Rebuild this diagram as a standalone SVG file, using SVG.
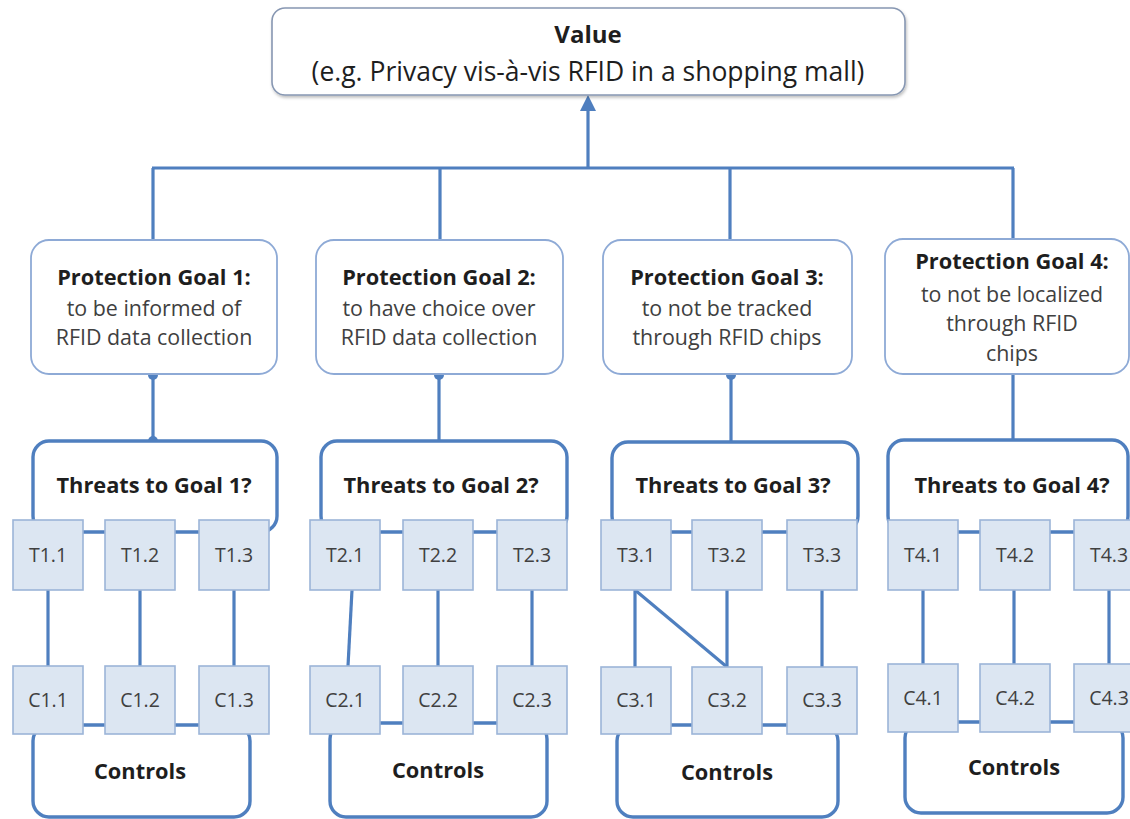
<svg xmlns="http://www.w3.org/2000/svg" width="1130" height="819" viewBox="0 0 1130 819">
<defs>
<style>
.val{fill:#fff;stroke:#8797b2;stroke-width:1.6}
.goal{fill:#fff;stroke:#8eaad6;stroke-width:1.8}
.grp{fill:#fff;stroke:#4f7fbf;stroke-width:3.4}
.sq{fill:#dce6f2;stroke:#9cb5d8;stroke-width:1.6}
.ln{stroke:#4f7fbf;stroke-width:3.2;fill:none}
.dot{fill:#4f7fbf}
text{font-family:"Open Sans","Liberation Sans",sans-serif;text-anchor:middle}
.h{font-weight:bold;font-size:21.8px;fill:#1e1e1e}
.d{font-size:21.4px;fill:#404040}
.s{font-size:19.5px;fill:#404040}
.vh{font-weight:bold;font-size:24px;fill:#1e1e1e}
.vd{font-size:26.5px;fill:#1e1e1e}
</style>
<filter id="sh" x="-5%" y="-10%" width="110%" height="130%"><feDropShadow dx="1" dy="2" stdDeviation="1.5" flood-color="#000" flood-opacity="0.25"/></filter>
</defs>

<g id="connectors">
<line class="ln" x1="152" y1="168" x2="1014" y2="168"/>
<line class="ln" x1="588" y1="169" x2="588" y2="108" stroke-width="4"/>
<polygon points="588,95 580,111 596,111" fill="#4f7fbf"/>
<line class="ln" x1="153" y1="168" x2="153" y2="240"/>
<line class="ln" x1="440" y1="168" x2="440" y2="240"/>
<line class="ln" x1="730" y1="168" x2="730" y2="240"/>
<line class="ln" x1="1013" y1="168" x2="1013" y2="239"/>
<line class="ln" x1="153" y1="374" x2="153" y2="441"/>
<line class="ln" x1="439" y1="374" x2="439" y2="441"/>
<line class="ln" x1="731" y1="374" x2="731" y2="442"/>
<line class="ln" x1="1013" y1="374" x2="1013" y2="440"/>
<circle class="dot" cx="153" cy="375" r="5"/>
<circle class="dot" cx="153" cy="441" r="5"/>
<circle class="dot" cx="439" cy="375" r="5"/>
<circle class="dot" cx="731" cy="375" r="5"/>
<line class="ln" x1="48" y1="590" x2="48" y2="666"/>
<line class="ln" x1="140" y1="590" x2="140" y2="666"/>
<line class="ln" x1="234" y1="590" x2="234" y2="666"/>
<line class="ln" x1="352" y1="590" x2="348" y2="666"/>
<line class="ln" x1="438" y1="590" x2="438" y2="666"/>
<line class="ln" x1="532" y1="590" x2="532" y2="666"/>
<line class="ln" x1="635" y1="590" x2="635" y2="667"/>
<line class="ln" x1="727" y1="590" x2="727" y2="667"/>
<line class="ln" x1="635" y1="590" x2="727" y2="667"/>
<line class="ln" x1="822" y1="590" x2="822" y2="667"/>
<line class="ln" x1="923" y1="590" x2="923" y2="664"/>
<line class="ln" x1="1014" y1="590" x2="1014" y2="664"/>
<line class="ln" x1="1109" y1="590" x2="1109" y2="664"/>
</g>

<g id="value">
<rect class="val" x="272" y="8" width="633" height="87" rx="13" filter="url(#sh)"/>
<text class="vh" x="588" y="43">Value</text>
<text class="vd" x="588" y="81">(e.g. Privacy vis-à-vis RFID in a shopping mall)</text>
</g>

<g id="goal1">
<rect class="goal" x="31" y="240" width="246" height="134" rx="18"/>
<text class="h" x="154" y="285">Protection Goal 1:</text>
<text class="d" x="154" y="316">to be informed of</text>
<text class="d" x="154" y="345">RFID data collection</text>
</g>
<g id="goal2">
<rect class="goal" x="316" y="240" width="247" height="134" rx="18"/>
<text class="h" x="439" y="285">Protection Goal 2:</text>
<text class="d" x="439" y="316">to have choice over</text>
<text class="d" x="439" y="345">RFID data collection</text>
</g>
<g id="goal3">
<rect class="goal" x="603" y="240" width="249" height="134" rx="18"/>
<text class="h" x="727" y="285">Protection Goal 3:</text>
<text class="d" x="727" y="316">to not be tracked</text>
<text class="d" x="727" y="345">through RFID chips</text>
</g>
<g id="goal4">
<rect class="goal" x="885" y="239" width="244" height="135" rx="18"/>
<text class="h" x="1012" y="269">Protection Goal 4:</text>
<text class="d" x="1012" y="302">to not be localized</text>
<text class="d" x="1012" y="331">through RFID</text>
<text class="d" x="1012" y="361">chips</text>
</g>

<g id="threats1">
<rect class="grp" x="33" y="441" width="244" height="91" rx="16"/>
<text class="h" x="154" y="493">Threats to Goal 1?</text>
</g>
<g id="threats2">
<rect class="grp" x="321" y="441" width="246" height="91" rx="16"/>
<text class="h" x="441" y="493">Threats to Goal 2?</text>
</g>
<g id="threats3">
<rect class="grp" x="612" y="442" width="246" height="90" rx="16"/>
<text class="h" x="733" y="493">Threats to Goal 3?</text>
</g>
<g id="threats4">
<rect class="grp" x="888" y="440" width="240" height="92" rx="16"/>
<text class="h" x="1012" y="493">Threats to Goal 4?</text>
</g>

<g id="controls1">
<rect class="grp" x="33" y="725" width="217" height="92" rx="16"/>
<text class="h" x="140" y="779">Controls</text>
</g>
<g id="controls2">
<rect class="grp" x="330" y="723" width="217" height="94" rx="16"/>
<text class="h" x="438" y="778">Controls</text>
</g>
<g id="controls3">
<rect class="grp" x="617" y="725" width="221" height="92" rx="16"/>
<text class="h" x="727" y="780">Controls</text>
</g>
<g id="controls4">
<rect class="grp" x="905" y="722" width="218" height="91" rx="16"/>
<text class="h" x="1014" y="775">Controls</text>
</g>

<g id="T1.1"><rect class="sq" x="13" y="520" width="70" height="70"/><text class="s" x="48" y="562">T1.1</text></g>
<g id="T1.2"><rect class="sq" x="105" y="520" width="70" height="70"/><text class="s" x="140" y="562">T1.2</text></g>
<g id="T1.3"><rect class="sq" x="199" y="520" width="70" height="70"/><text class="s" x="234" y="562">T1.3</text></g>
<g id="T2.1"><rect class="sq" x="310" y="520" width="70" height="70"/><text class="s" x="345" y="562">T2.1</text></g>
<g id="T2.2"><rect class="sq" x="403" y="520" width="70" height="70"/><text class="s" x="438" y="562">T2.2</text></g>
<g id="T2.3"><rect class="sq" x="497" y="520" width="70" height="70"/><text class="s" x="532" y="562">T2.3</text></g>
<g id="T3.1"><rect class="sq" x="601" y="520" width="70" height="70"/><text class="s" x="636" y="562">T3.1</text></g>
<g id="T3.2"><rect class="sq" x="692" y="520" width="70" height="70"/><text class="s" x="727" y="562">T3.2</text></g>
<g id="T3.3"><rect class="sq" x="787" y="520" width="70" height="70"/><text class="s" x="822" y="562">T3.3</text></g>
<g id="T4.1"><rect class="sq" x="888" y="520" width="70" height="70"/><text class="s" x="923" y="562">T4.1</text></g>
<g id="T4.2"><rect class="sq" x="980" y="520" width="70" height="70"/><text class="s" x="1015" y="562">T4.2</text></g>
<g id="T4.3"><rect class="sq" x="1074" y="520" width="70" height="70"/><text class="s" x="1109" y="562">T4.3</text></g>

<g id="C1.1"><rect class="sq" x="13" y="666" width="70" height="68"/><text class="s" x="48" y="707">C1.1</text></g>
<g id="C1.2"><rect class="sq" x="105" y="666" width="70" height="68"/><text class="s" x="140" y="707">C1.2</text></g>
<g id="C1.3"><rect class="sq" x="199" y="666" width="70" height="68"/><text class="s" x="234" y="707">C1.3</text></g>
<g id="C2.1"><rect class="sq" x="310" y="666" width="70" height="68"/><text class="s" x="345" y="707">C2.1</text></g>
<g id="C2.2"><rect class="sq" x="403" y="666" width="70" height="68"/><text class="s" x="438" y="707">C2.2</text></g>
<g id="C2.3"><rect class="sq" x="497" y="666" width="70" height="68"/><text class="s" x="532" y="707">C2.3</text></g>
<g id="C3.1"><rect class="sq" x="601" y="667" width="70" height="67"/><text class="s" x="636" y="707">C3.1</text></g>
<g id="C3.2"><rect class="sq" x="692" y="667" width="70" height="67"/><text class="s" x="727" y="707">C3.2</text></g>
<g id="C3.3"><rect class="sq" x="787" y="667" width="70" height="67"/><text class="s" x="822" y="707">C3.3</text></g>
<g id="C4.1"><rect class="sq" x="888" y="664" width="70" height="68"/><text class="s" x="923" y="705">C4.1</text></g>
<g id="C4.2"><rect class="sq" x="980" y="664" width="70" height="68"/><text class="s" x="1015" y="705">C4.2</text></g>
<g id="C4.3"><rect class="sq" x="1074" y="664" width="70" height="68"/><text class="s" x="1109" y="705">C4.3</text></g>
</svg>
